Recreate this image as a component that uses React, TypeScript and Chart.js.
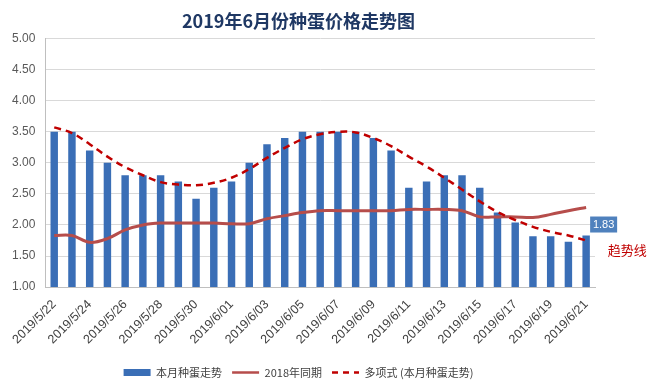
import React, { useEffect, useRef } from "react";
import { Chart, registerables } from "chart.js";

Chart.register(...registerables);

const TITLE = "2019年6月份种蛋价格走势图";

const categories = [
  "2019/5/22", "2019/5/23", "2019/5/24", "2019/5/25", "2019/5/26", "2019/5/27",
  "2019/5/28", "2019/5/29", "2019/5/30", "2019/5/31", "2019/6/01", "2019/6/02",
  "2019/6/03", "2019/6/04", "2019/6/05", "2019/6/06", "2019/6/07", "2019/6/08",
  "2019/6/09", "2019/6/10", "2019/6/11", "2019/6/12", "2019/6/13", "2019/6/14",
  "2019/6/15", "2019/6/16", "2019/6/17", "2019/6/18", "2019/6/19", "2019/6/20",
  "2019/6/21",
];

const currentMonth = [
  3.5, 3.5, 3.2, 3.0, 2.8, 2.8, 2.8, 2.7, 2.42, 2.6, 2.7, 3.0,
  3.3, 3.4, 3.5, 3.5, 3.5, 3.5, 3.4, 3.2, 2.6, 2.7, 2.8, 2.8,
  2.6, 2.2, 2.04, 1.82, 1.82, 1.73, 1.83,
];

const sameTime2018 = [
  1.83, 1.83, 1.72, 1.78, 1.92, 2.0, 2.03, 2.03, 2.03, 2.03, 2.02, 2.02,
  2.1, 2.15, 2.2, 2.23, 2.23, 2.23, 2.23, 2.23, 2.25, 2.25, 2.25, 2.23,
  2.13, 2.13, 2.13, 2.12, 2.17, 2.23, 2.28,
];

const trendValues = [
  3.57, 3.48, 3.3, 3.1, 2.93, 2.8, 2.69, 2.65, 2.64, 2.68, 2.76, 2.9,
  3.08, 3.24, 3.38, 3.46, 3.5, 3.49, 3.4, 3.27, 3.1, 2.94, 2.76, 2.57,
  2.38, 2.21, 2.08, 1.97, 1.89, 1.83, 1.75,
];

const seriesNames = ["本月种蛋走势", "2018年同期", "多项式 (本月种蛋走势)"];
const lastLabel = "1.83";
const trendNote = "趋势线";

const CJK = '"Noto Sans CJK SC", "Noto Sans", sans-serif';
const LATIN = '"Liberation Sans", "Noto Sans CJK SC", sans-serif';

const annotationPlugin = {
  id: "lastAnnot",
  afterDatasetsDraw(chart: any) {
    const { ctx, scales } = chart;
    const idx = currentMonth.length - 1;
    const x = scales.x.getPixelForValue(idx);
    const y = scales.y.getPixelForValue(currentMonth[idx]);
    ctx.save();
    const bx = x + 4;
    const by = y - 19;
    ctx.fillStyle = "#4F81BD";
    ctx.fillRect(bx, by, 27, 16);
    ctx.fillStyle = "#ffffff";
    ctx.font = "11px " + LATIN;
    ctx.textAlign = "center";
    ctx.textBaseline = "middle";
    ctx.fillText(lastLabel, bx + 13.5, by + 8.5);
    ctx.fillStyle = "#C00000";
    ctx.font = "13px " + CJK;
    ctx.textAlign = "center";
    ctx.fillText(trendNote, x + 41, y + 15);
    ctx.restore();
  },
};

export default function App() {
  const ref = useRef<HTMLCanvasElement | null>(null);
  useEffect(() => {
    if (!ref.current) return;
    const chart = new Chart(ref.current, {
      type: "bar",
      data: {
        labels: categories,
        datasets: [
          {
            type: "bar",
            label: seriesNames[0],
            data: currentMonth,
            backgroundColor: "#3A6EB6",
            borderWidth: 0,
            categoryPercentage: 1,
            barPercentage: 0.42,
            order: 3,
          } as any,
          {
            type: "line",
            label: seriesNames[1],
            data: sameTime2018,
            borderColor: "#B64D4B",
            backgroundColor: "#B64D4B",
            borderWidth: 3,
            pointRadius: 0,
            tension: 0.35,
            order: 2,
          },
          {
            type: "line",
            label: seriesNames[2],
            data: trendValues,
            borderColor: "#C00000",
            backgroundColor: "#C00000",
            borderWidth: 2.5,
            borderDash: [7, 5],
            pointRadius: 0,
            tension: 0.4,
            order: 1,
          },
        ],
      },
      options: {
        animation: false,
        responsive: false,
        maintainAspectRatio: false,
        layout: { padding: { left: 2, right: 56, top: 0, bottom: 3 } },
        plugins: {
          title: {
            display: true,
            text: TITLE,
            color: "#1F3864",
            font: { family: CJK, size: 18, weight: "bold" },
            padding: { top: 10, bottom: 7 },
          },
          legend: {
            position: "bottom",
            labels: {
              usePointStyle: true,
              pointStyleWidth: 27,
              boxWidth: 27,
              boxHeight: 7,
              color: "#404040",
              font: { family: CJK, size: 11 },
              padding: 10,
              generateLabels: (c: any) => {
                const ds = c.data.datasets;
                return [
                  { text: ds[0].label, fillStyle: "#3A6EB6", strokeStyle: "#3A6EB6", lineWidth: 0, pointStyle: "rect", datasetIndex: 0, fontColor: "#404040" },
                  { text: ds[1].label, fillStyle: "#B64D4B", strokeStyle: "#B64D4B", lineWidth: 2.5, pointStyle: "line", datasetIndex: 1, fontColor: "#404040" },
                  { text: ds[2].label, fillStyle: "#C00000", strokeStyle: "#C00000", lineWidth: 2.5, lineDash: [6, 5], pointStyle: "line", datasetIndex: 2, fontColor: "#404040" },
                ];
              },
            },
          },
          tooltip: { enabled: false },
        },
        scales: {
          x: {
            grid: { display: false, drawTicks: false },
            border: { color: "#BFBFBF" },
            ticks: {
              autoSkip: false,
              maxRotation: 45,
              minRotation: 45,
              color: "#404040",
              font: { family: LATIN, size: 12.5 },
              padding: 10,
              callback: (_v: any, i: number) => (i % 2 === 0 ? categories[i] : ""),
            },
          },
          y: {
            min: 1,
            max: 5,
            grid: { color: "#D9D9D9", drawTicks: false },
            border: { color: "#BFBFBF", display: true },
            ticks: {
              stepSize: 0.5,
              color: "#595959",
              font: { family: LATIN, size: 12 },
              padding: 10,
              callback: (v: any) => Number(v).toFixed(2),
            },
          },
        },
      },
      plugins: [annotationPlugin],
    });
    return () => chart.destroy();
  }, []);
  return (
    <div style={{ position: "fixed", left: 0, top: 0, width: 651, height: 391, background: "#fff" }}>
      <canvas ref={ref} width={651} height={391} style={{ width: 651, height: 391 }} />
    </div>
  );
}
